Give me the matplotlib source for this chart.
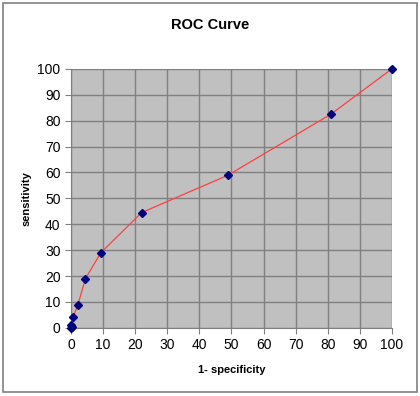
import matplotlib
matplotlib.use("Agg")
from matplotlib import pyplot as plt
from matplotlib.patches import Rectangle

# ROC points
fpr = [0, 0, 0.4, 0.7, 2.1, 4.5, 9.3, 22, 49, 81, 100]
tpr = [0, 1, 0.5, 4.3, 8.7, 19, 29, 44.5, 59, 82.5, 100]
ticks = list(range(0, 101, 10))

plt.rcParams['font.family'] = ['Liberation Sans', 'DejaVu Sans']

fig = plt.figure(figsize=(4.2, 3.96), dpi=100)
fig.patches.append(Rectangle((0.007, 0.01), 0.985, 0.982, transform=fig.transFigure,
                             fill=False, edgecolor='#808080', linewidth=1.2))
ax = fig.add_axes([0.169, 0.172, 0.764, 0.654])
ax.set_facecolor('#c0c0c0')
ax.plot(fpr, tpr, color='#ff4040', linewidth=0.9, zorder=3, clip_on=False)
ax.plot(fpr, tpr, 'D', color='#000080', markersize=4, zorder=4, linestyle='none', clip_on=False)
ax.set_xlim(0, 100)
ax.set_ylim(0, 100)
ax.set_xticks(ticks)
ax.set_yticks(ticks)
ax.grid(True, color='#808080', linewidth=1)
ax.set_axisbelow(True)
ax.tick_params(direction='out', length=4, labelsize=10, color='#808080')
for s in ['top', 'right']:
    ax.spines[s].set_visible(False)
for s in ['left', 'bottom']:
    ax.spines[s].set_color('#808080')
ax.set_xlabel('1- specificity', fontsize=8, fontweight='bold', labelpad=9)
ax.set_ylabel('sensitivity', fontsize=8, fontweight='bold', labelpad=4)
fig.text(0.5, 0.937, 'ROC Curve', ha='center', va='center', fontsize=10.5, fontweight='bold')

plt.savefig('out.png', dpi=100)
